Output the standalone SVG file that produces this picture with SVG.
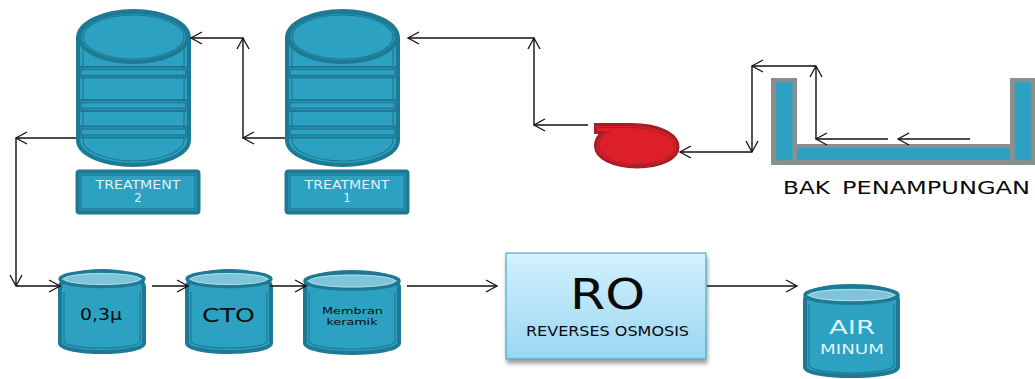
<svg xmlns="http://www.w3.org/2000/svg" width="1035" height="379" viewBox="0 0 1035 379">
<style>
.f{fill:#2ca1c1}
.s{fill:#2ca1c1;stroke:#1e7a94;stroke-width:4}
.i{fill:none;stroke:#1e7a94;stroke-width:1.2}
.c{fill:none;stroke:#111;stroke-width:1.4;marker-end:url(#a)}
.t{font-family:"DejaVu Sans","Open Sans",sans-serif;text-anchor:middle}
.w{fill:#dff3f8}
.k{fill:#0a0a0a}
</style>
<defs>
<marker id="a" markerUnits="userSpaceOnUse" markerWidth="14" markerHeight="14" refX="12" refY="7" orient="auto"><path d="M1 1L12 7L1 13" fill="none" stroke="#111" stroke-width="1.300"/></marker>
<linearGradient id="g" x1="0" y1="0" x2="0" y2="1"><stop offset="0" stop-color="#d3f1fe"/><stop offset="1" stop-color="#9bd6f0"/></linearGradient>
<filter id="sh" x="-5%" y="-5%" width="110%" height="115%"><feDropShadow dx="1" dy="4" stdDeviation="2" flood-color="#000" flood-opacity=".4"/></filter>
<g id="tank">
<path class="s" d="M78 38V140C78 155 105 165 133.500 165C162 165 189 155 189 140V38C189 22 162 11 133.500 11C105 11 78 22 78 38Z"/>
<path class="i" d="M83 44V140C83 152 108 161 133.500 161C159 161 184 152 184 140V44"/>
<g fill="#2ca1c1" stroke="#1e7a94" stroke-width="1.500">
<rect x="81" y="69.500" width="105" height="6"/>
<rect x="81" y="102.500" width="105" height="6"/>
<rect x="81" y="129" width="105" height="6"/>
</g>
<path d="M78 67H189M78 77.500H189M78 100H189M78 111H189M78 126.500H189M78 137.500H189" stroke="#1e7a94" stroke-width="2"/>
<ellipse class="s" cx="133.500" cy="37" rx="54" ry="25"/>
<ellipse class="i" cx="133.500" cy="37" rx="50.500" ry="22"/>
</g>
<g id="cyl">
<path class="s" d="M-42 20V75C-42 81 -20 84 0 84C20 84 42 81 42 75V20C42 8 20 3 0 3C-20 3 -42 8 -42 20Z"/>
<path class="i" d="M-38 24V73C-38 78 -18 80 0 80C18 80 38 78 38 73V24"/>
<ellipse cx="0" cy="11" rx="42" ry="7.500" fill="#7fc5da" stroke="#1e7a94" stroke-width="3.500"/>
<ellipse cx="0" cy="11" rx="38" ry="5.500" fill="none" stroke="#b5dde8" stroke-width="1"/>
</g>
</defs>
<g id="treatment-2">
<use href="#tank"/>
<rect class="s" x="77.500" y="171.500" width="121" height="41" rx="2"/>
<rect class="i" x="81" y="175" width="114" height="34"/>
<text class="t w" x="138" y="189" font-size="11.700" textLength="85" lengthAdjust="spacingAndGlyphs">TREATMENT</text>
<text class="t w" x="138" y="202" font-size="11.700">2</text>
</g>
<g id="treatment-1">
<use href="#tank" x="209"/>
<rect class="s" x="286.500" y="171.500" width="121" height="41" rx="2"/>
<rect class="i" x="290" y="175" width="114" height="34"/>
<text class="t w" x="347" y="189" font-size="11.700" textLength="85" lengthAdjust="spacingAndGlyphs">TREATMENT</text>
<text class="t w" x="347" y="202" font-size="11.700">1</text>
</g>
<g id="pump">
<path d="M595.500 124.500H629C658 124 678 134 678 147C678 159 660 167 637 167C613 167 595.500 158 595.500 146C595.500 140 598 136 602 132.500H595.500Z" fill="#dd1f2a" stroke="#a81c24" stroke-width="3"/>
<path d="M599 127.500H628C654 127.500 674.500 136 674.500 147C674.500 157 657 164.500 637 164.500C616 164.500 599 156 599 146C599 141 602 136 606 132.500H611" fill="none" stroke="#a81c24" stroke-width="1"/>
</g>
<g id="bak-penampungan">
<path d="M771 78H797V144H1010V78H1035V165H771Z" fill="#8e8e8e"/>
<rect class="f" x="776" y="82" width="16.500" height="78" stroke="#4aa0b5" stroke-width="1"/>
<rect class="f" x="797" y="148" width="213" height="12"/>
<rect class="f" x="1015" y="82" width="16" height="78" stroke="#4aa0b5" stroke-width="1"/>
<text class="t k" x="806.500" y="194" font-size="18" textLength="47" lengthAdjust="spacingAndGlyphs">BAK</text>
<text class="t k" x="936" y="194" font-size="18" textLength="188" lengthAdjust="spacingAndGlyphs">PENAMPUNGAN</text>
</g>
<g id="filter-03">
<use href="#cyl" x="102" y="268"/>
<text class="t k" x="101" y="320" font-size="15.500" textLength="42" lengthAdjust="spacingAndGlyphs">0,3µ</text>
</g>
<g id="cto">
<use href="#cyl" x="229" y="268"/>
<text class="t k" x="228.500" y="322" font-size="20" textLength="53" lengthAdjust="spacingAndGlyphs">CTO</text>
</g>
<g id="membran-keramik">
<path class="s" d="M305 288V343C305 349 328 353 352 353C376 353 399 349 399 343V288C399 276 376 272 352 272C328 272 305 276 305 288Z"/>
<path class="i" d="M309 292V341C309 346 330 349 352 349C374 349 395 346 395 341V292"/>
<ellipse cx="352" cy="281" rx="47" ry="8" fill="#7fc5da" stroke="#1e7a94" stroke-width="3.500"/>
<ellipse cx="352" cy="281" rx="43" ry="6" fill="none" stroke="#b5dde8" stroke-width="1"/>
<text class="t k" x="352.500" y="314" font-size="9.500" textLength="61" lengthAdjust="spacingAndGlyphs">Membran</text>
<text class="t k" x="352" y="325" font-size="9.500" textLength="51" lengthAdjust="spacingAndGlyphs">keramik</text>
</g>
<g id="ro">
<rect x="506" y="253" width="200" height="106" fill="url(#g)" stroke="#2ca1c1" stroke-width="1" filter="url(#sh)"/>
<text class="t k" x="607.500" y="309" font-size="43" textLength="75" lengthAdjust="spacingAndGlyphs">RO</text>
<text class="t k" x="607.500" y="336" font-size="13.500" textLength="163" lengthAdjust="spacingAndGlyphs">REVERSES OSMOSIS</text>
</g>
<g id="air-minum">
<path class="s" d="M805 300V367C805 373 828 376 851.500 376C875 376 898 373 898 367V300C898 290 875 286 851.500 286C828 286 805 290 805 300Z"/>
<path class="i" d="M809 304V365C809 370 830 373 851.500 373C873 373 894 370 894 365V304"/>
<ellipse cx="851.500" cy="295" rx="46.500" ry="8" fill="#7fc5da" stroke="#1e7a94" stroke-width="3.500"/>
<ellipse cx="851.500" cy="295" rx="42" ry="5.500" fill="none" stroke="#b5dde8" stroke-width="1"/>
<text class="t w" x="852" y="334" font-size="20" textLength="46" lengthAdjust="spacingAndGlyphs">AIR</text>
<text class="t w" x="852" y="354" font-size="14.500" textLength="64" lengthAdjust="spacingAndGlyphs">MINUM</text>
</g>
<g id="connectors">
<path class="c" d="M970 139H898"/>
<path class="c" d="M888 139H816"/>
<path class="c" d="M816 139V66"/>
<path class="c" d="M816 66H752"/>
<path class="c" d="M752 66V152"/>
<path class="c" d="M752 152H680"/>
<path class="c" d="M588 125H534"/>
<path class="c" d="M534 125V38"/>
<path class="c" d="M534 38H408"/>
<path class="c" d="M285 138H243"/>
<path class="c" d="M243 138V38"/>
<path class="c" d="M243 38H191"/>
<path class="c" d="M76 138H16"/>
<path class="c" d="M16 138V286"/>
<path class="c" d="M16 286H60"/>
<path class="c" d="M152 286H188"/>
<path class="c" d="M270 286H306"/>
<path class="c" d="M407 286H497"/>
<path class="c" d="M707 286H797"/>
</g>
</svg>
